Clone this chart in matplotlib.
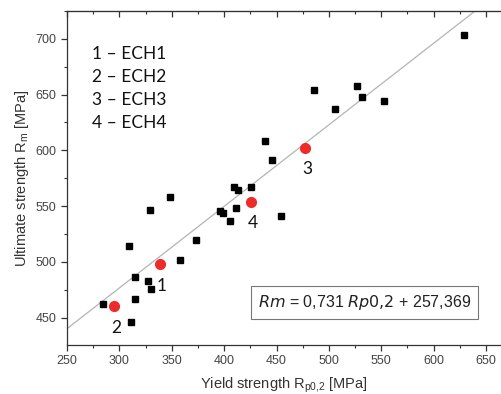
import numpy as np
import matplotlib.pyplot as plt
from matplotlib.ticker import MultipleLocator

# measured samples (black squares)
rp02 = [284, 311, 315, 315, 327.5, 330, 309, 329, 348.5, 358, 373, 396, 399,
        406, 411, 409, 413, 426, 454, 439, 446, 486, 506, 526.5, 532, 553, 629]
rm = [462.5, 446, 467, 486.5, 483, 476, 514.5, 546.5, 558, 501.5, 519.5, 546,
      543.5, 536.5, 548, 567.5, 564.5, 567.5, 541.5, 608, 591, 654, 637, 658,
      648, 644.5, 703.5]

# highlighted samples ECH1..ECH4 (red)
ech_labels = ['1', '2', '3', '4']
ech_rp02 = [338.7, 295.3, 477.1, 425.4]
ech_rm = [498, 460, 602.5, 553.7]

# linear fit
slope = 0.731
intercept = 257.369

plt.rcParams['font.family'] = ['Liberation Sans', 'DejaVu Sans']

fig = plt.figure(figsize=(5.02, 3.94), dpi=100)
ax = fig.add_axes([0.1335, 0.1244, 0.866, 0.848])

xfit = np.array([250, 665])
ax.plot(xfit, slope * xfit + intercept, color='#b4b4b4', lw=0.9, zorder=1)

ax.plot(rp02, rm, 's', color='black', ms=4.8, zorder=3)
ax.plot(ech_rp02, ech_rm, 'o', color='#ee2a2a', ms=7, zorder=3)

for lab, x, y in zip(ech_labels, ech_rp02, ech_rm):
    ax.annotate(lab, (x, y), textcoords='offset points', xytext=(1.5, -15.5),
                ha='center', va='center', fontsize=12.5, family='Lato',
                color='#111111')

ax.text(0.058, 0.895, '1 – ECH1\n2 – ECH2\n3 – ECH3\n4 – ECH4',
        transform=ax.transAxes, ha='left', va='top', fontsize=12.5,
        family='Lato', color='#111111', linespacing=1.55)

ax.text(534, 463.4, r'$\it{Rm}$ = 0,731 $\it{Rp0{,}2}$ + 257,369',
        ha='center', va='center', fontsize=11.5, color='#222222',
        bbox=dict(boxstyle='square,pad=0.45', fc='white', ec='#777777', lw=0.8))

ax.set_xlim(250, 665)
ax.set_ylim(425.5, 725)
ax.xaxis.set_major_locator(MultipleLocator(50))
ax.xaxis.set_minor_locator(MultipleLocator(25))
ax.yaxis.set_major_locator(MultipleLocator(50))
ax.yaxis.set_minor_locator(MultipleLocator(25))
ax.tick_params(which='both', direction='out', colors='#333333',
               labelcolor='#444444', labelsize=9)
ax.tick_params(which='major', length=4, width=0.9)
ax.tick_params(which='minor', length=2.5, width=0.8)

top = ax.secondary_xaxis('top')
top.xaxis.set_major_locator(MultipleLocator(50))
top.xaxis.set_minor_locator(MultipleLocator(25))
top.tick_params(which='both', direction='in', labeltop=False, colors='#333333')
top.tick_params(which='major', length=4, width=0.9)
top.tick_params(which='minor', length=2.5, width=0.8)
top.spines['top'].set_color('#333333')

for s in ax.spines.values():
    s.set_color('#333333')
    s.set_linewidth(0.9)

ax.set_xlabel('Yield strength R$_{\\mathregular{p0{,}2}}$ [MPa]', fontsize=10.5,
              color='#333333', labelpad=6)
ax.set_ylabel('Ultimate strength R$_{\\mathregular{m}}$ [MPa]', fontsize=10.5,
              color='#333333', labelpad=3)

fig.savefig('out.png', dpi=100)
